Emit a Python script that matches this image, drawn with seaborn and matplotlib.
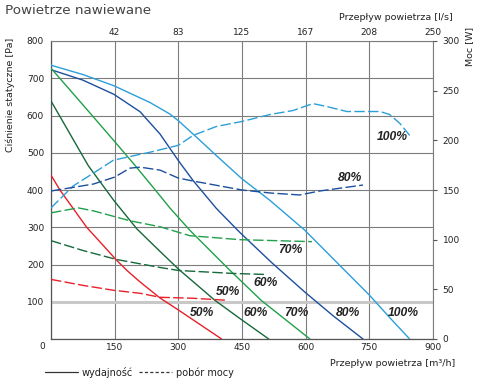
import matplotlib
matplotlib.use("Agg")
import matplotlib.pyplot as plt
import seaborn as sns
import pandas as pd
from matplotlib.lines import Line2D

# ---------------- data ----------------
speeds = ["100%", "80%", "70%", "60%", "50%"]
colors = ["#2b9fd9", "#1d4f9c", "#20a04a", "#16693a", "#e8202a"]

# static pressure curves (flow m3/h, pressure Pa)
q100 = [0, 75, 148, 233, 280, 300, 335, 390, 450, 516, 598, 680, 750, 800, 845]
p100 = [735, 710, 680, 635, 604, 586, 550, 492, 430, 372, 292, 198, 118, 55, 0]
q80 = [0, 75, 148, 210, 257, 300, 335, 390, 445, 520, 598, 665, 735]
p80 = [723, 695, 657, 610, 550, 479, 425, 350, 286, 205, 126, 62, 0]
q70 = [0, 100, 150, 198, 240, 280, 327, 421, 495, 610]
p70 = [727, 596, 530, 466, 408, 352, 292, 185, 104, 0]
q60 = [0, 88, 148, 202, 257, 300, 386, 445, 513]
p60 = [639, 465, 372, 296, 235, 188, 104, 55, 0]
q50 = [0, 21, 84, 155, 178, 210, 257, 300, 402]
p50 = [440, 400, 300, 211, 185, 153, 110, 78, 0]

# power curves (flow m3/h, power W)
wq100 = [0, 52, 100, 147, 200, 233, 300, 335, 390, 450, 516, 570, 617, 650, 697, 775, 798, 822, 845]
w100 = [132, 154, 167, 180, 185, 188, 195, 205, 214, 219, 226, 230, 237, 234, 229, 229, 226, 217, 205]
wq80 = [0, 100, 150, 186, 210, 257, 300, 335, 450, 516, 586, 633, 735]
w80 = [149, 156, 163, 172, 173, 170, 162, 159, 150, 147, 145, 149, 155]
wq70 = [0, 64, 100, 186, 257, 327, 445, 615]
w70 = [127, 132, 129, 119, 113, 104, 100, 98]
wq60 = [0, 76, 155, 257, 300, 429, 504]
w60 = [99, 89, 80, 72, 69, 66, 65]
wq50 = [0, 75, 148, 210, 257, 335, 414]
w50 = [60, 54, 49, 46, 42, 41, 39]

x_ticks = [0, 150, 300, 450, 600, 750, 900]
x_labels = ["", "150", "300", "450", "600", "750", "900"]
top_labels = ["42", "83", "125", "167", "208", "250"]
y_ticks = [0, 100, 200, 300, 400, 500, 600, 700, 800]
w_ticks = [0, 50, 100, 150, 200, 250, 300]

# ---------------- frames ----------------
pq = [q100, q80, q70, q60, q50]
pp = [p100, p80, p70, p60, p50]
wq = [wq100, wq80, wq70, wq60, wq50]
ww = [w100, w80, w70, w60, w50]
df_p = pd.concat([pd.DataFrame({"speed": s, "flow": q, "pa": p}) for s, q, p in zip(speeds, pq, pp)])
df_w = pd.concat([pd.DataFrame({"speed": s, "flow": q, "w": w}) for s, q, w in zip(speeds, wq, ww)])
palette = dict(zip(speeds, colors))

sns.set_theme(style="white")
plt.rcParams["font.family"] = ["DejaVu Sans"]

fig = plt.figure(figsize=(4.8, 3.8), dpi=100)
ax = fig.add_axes([51 / 480, 41 / 380, 382 / 480, 298 / 380])

sns.lineplot(data=df_p, x="flow", y="pa", hue="speed", palette=palette, sort=False,
             estimator=None, legend=False, lw=1.0, ax=ax, zorder=3)
ax.set_xlim(0, 900)
ax.set_ylim(0, 800)
ax.set_xticks(x_ticks)
ax.set_xticklabels(x_labels)
ax.set_yticks(y_ticks)
ax.set_yticklabels([""] + [str(v) for v in y_ticks[1:]])
ax.set_xlabel("")
ax.set_ylabel("")
ax.set_axisbelow(True)
ax.grid(True, color="#7d7d7d", lw=0.8)
gl = ax.yaxis.get_major_ticks()[1].gridline
gl.set_color("#c8c8c8")
gl.set_linewidth(2.2)
gl.set_zorder(0.3)
ax.tick_params(axis="both", length=0, labelsize=6.5, colors="#222222")
ax.tick_params(axis="y", pad=5)
ax.tick_params(axis="x", pad=3)
for side in ["left", "bottom"]:
    ax.spines[side].set_color("#555555")
    ax.spines[side].set_linewidth(0.9)
for side in ["top", "right"]:
    ax.spines[side].set_color("#7d7d7d")
    ax.spines[side].set_linewidth(0.8)
ax.text(-0.024, -0.024, "0", transform=ax.transAxes, ha="center", va="center",
        fontsize=6.5, color="#222222")

# power axis
ax2 = ax.twinx()
sns.lineplot(data=df_w, x="flow", y="w", hue="speed", palette=palette, sort=False,
             estimator=None, legend=False, lw=1.0, ax=ax2)
for ln in ax2.get_lines():
    ln.set_dashes((7.5, 2.4))
ax2.set_ylim(0, 300)
ax2.set_yticks(w_ticks)
ax2.set_ylabel("")
ax2.grid(False)
for s in ax2.spines.values():
    s.set_visible(False)
ax2.tick_params(axis="y", direction="out", length=3, width=0.8, color="#555555",
                labelsize=6.5, labelcolor="#222222", pad=4, right=True)

# top axis (l/s)
secx = ax.secondary_xaxis("top")
secx.set_xticks(x_ticks[1:], labels=top_labels)
secx.tick_params(length=0, labelsize=6.5, colors="#222222", pad=3)
for s in secx.spines.values():
    s.set_visible(False)

# speed labels
lab_font = dict(fontsize=8.7, fontweight="bold", fontstyle="italic",
                family=["Liberation Sans"], color="#222222", ha="center", va="center")
upper_pos = {"100%": (803, 543), "80%": (704, 433), "70%": (563, 238),
             "60%": (506, 150), "50%": (417, 126)}
lower_x = {"50%": 356, "60%": 483, "70%": 579, "80%": 699, "100%": 831}
for s in speeds:
    ax.text(*upper_pos[s], s, **lab_font, zorder=5)
    ax.text(lower_x[s], 70, s, **lab_font, zorder=5)

# texts
fig.text(5 / 480, 1 - 11 / 380, "Powietrze nawiewane", fontsize=9.7, color="#444444",
         ha="left", va="center")
fig.text(453 / 480, 1 - 17 / 380, "Przepływ powietrza [l/s]", fontsize=6.8,
         color="#222222", ha="right", va="center")
fig.text(455 / 480, 1 - 363 / 380, "Przepływ powietrza [m³/h]", fontsize=6.8,
         color="#222222", ha="right", va="center")
fig.text(10 / 480, 1 - 95 / 380, "Ciśnienie statyczne [Pa]", fontsize=6.8,
         color="#222222", rotation=90, ha="center", va="center")
fig.text(470 / 480, 1 - 46 / 380, "Moc [W]", fontsize=6.8,
         color="#222222", rotation=90, ha="center", va="center")

handles = [Line2D([], [], color="#333333", lw=0.9),
           Line2D([], [], color="#333333", lw=0.9, dashes=(2.5, 1.8))]
fig.legend(handles, ["wydajność", "pobór mocy"], loc="center left",
           bbox_to_anchor=(36 / 480, 1 - 372 / 380), ncol=2, frameon=False,
           fontsize=7, handlelength=3.4, handletextpad=0.4, columnspacing=0.6,
           labelcolor="#222222")

fig.savefig("out.png", dpi=100)
